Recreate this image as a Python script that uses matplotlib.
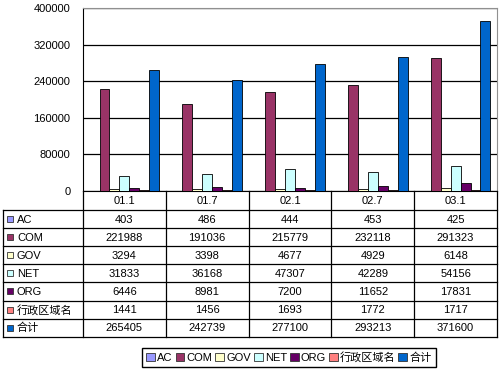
import matplotlib.pyplot as plt
from matplotlib.patches import Patch, Rectangle
import numpy as np

plt.rcParams['font.family'] = ['Liberation Sans', 'Noto Sans CJK SC']
plt.rcParams['font.size'] = 8

periods = ['01.1', '01.7', '02.1', '02.7', '03.1']
series = ['AC', 'COM', 'GOV', 'NET', 'ORG', '行政区域名', '合计']
ac = [403, 486, 444, 453, 425]
com = [221988, 191036, 215779, 232118, 291323]
gov = [3294, 3398, 4677, 4929, 6148]
net = [31833, 36168, 47307, 42289, 54156]
org = [6446, 8981, 7200, 11652, 17831]
admin = [1441, 1456, 1693, 1772, 1717]
total = [265405, 242739, 277100, 293213, 371600]
values = [ac, com, gov, net, org, admin, total]
colors = ['#9999FF', '#993366', '#FFFFCC', '#CCFFFF', '#660066', '#FF8080', '#0066CC']

W, H = 499, 371
fig = plt.figure(figsize=(W / 100, H / 100), dpi=100)

# layout in pixels
pl, pr, pt, pb = 83, 497, 8, 191
ax = fig.add_axes([pl / W, 1 - pb / H, (pr - pl) / W, (pb - pt) / H])

x = np.arange(len(periods))
bw = 0.12
for j, (vals, c) in enumerate(zip(values, colors)):
    ax.bar(x + (j - 3) * bw, vals, width=bw, color=c, edgecolor='black', linewidth=0.6, zorder=3)

ax.set_xlim(-0.5, len(periods) - 0.5)
ax.set_ylim(0, 400000)
ax.set_yticks(np.arange(0, 400001, 80000))
ax.set_yticklabels([str(v) for v in range(0, 400001, 80000)])
ax.set_xticks([])
ax.tick_params(axis='y', length=0, pad=9)
ax.yaxis.grid(True, color='black', linewidth=0.9)
ax.set_axisbelow(True)
for s in ['top', 'right']:
    ax.spines[s].set_color('#909090')
ax.spines['left'].set_color('black')
ax.spines['bottom'].set_color('black')

# data table drawn below the plot
tax = fig.add_axes([0, 0, 1, 1])
tax.set_xlim(0, W)
tax.set_ylim(H, 0)
tax.axis('off')

tl = 3
col_x = [pl + i * (pr - pl) / len(periods) for i in range(len(periods) + 1)]
row_top = 210
row_h = 18.1
rows_y = [row_top + k * row_h for k in range(len(series) + 1)]
lw = 0.9

for y in rows_y:
    tax.plot([tl, pr], [y, y], color='black', lw=lw)
for cx in col_x:
    tax.plot([cx, cx], [pb, rows_y[-1]], color='black', lw=lw)
tax.plot([tl, tl], [row_top, rows_y[-1]], color='black', lw=lw)

for i, p in enumerate(periods):
    tax.text((col_x[i] + col_x[i + 1]) / 2, (pb + row_top) / 2 + 0.5, p,
             ha='center', va='center')

for k, (name, vals, c) in enumerate(zip(series, values, colors)):
    yc = rows_y[k] + row_h / 2
    tax.add_patch(Rectangle((7, yc - 3), 6, 6, facecolor=c, edgecolor='#333333', lw=0.6))
    tax.text(17, yc + 0.5, name, ha='left', va='center')
    for i, v in enumerate(vals):
        tax.text((col_x[i] + col_x[i + 1]) / 2, yc + 0.5, str(v), ha='center', va='center')

handles = [Patch(facecolor=c, edgecolor='#333333', lw=0.6) for c in colors]
leg = fig.legend(handles, series, loc='center', ncol=7,
                 bbox_to_anchor=(289 / W, 1 - 357.5 / H),
                 handlelength=0.8, handleheight=0.8, handletextpad=0.2,
                 columnspacing=0.25, borderpad=0.35, borderaxespad=0, fancybox=False,
                 edgecolor='black', framealpha=1)
leg.get_frame().set_linewidth(1.0)

fig.savefig('out.png', dpi=100)
